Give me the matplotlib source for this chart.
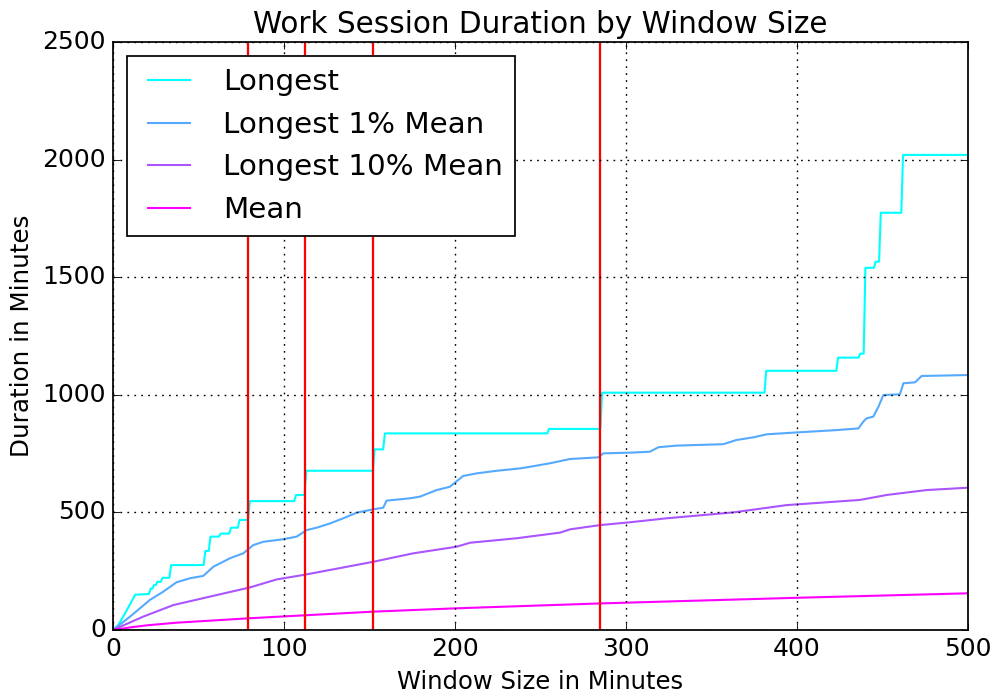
import matplotlib
matplotlib.use("Agg")
import matplotlib.pyplot as plt

plt.style.use("classic")

title = "Work Session Duration by Window Size"
xlabel = "Window Size in Minutes"
ylabel = "Duration in Minutes"
labels = ["Longest", "Longest 1% Mean", "Longest 10% Mean", "Mean"]

longest_x = [0, 3, 7, 10, 13, 21, 22, 23, 24, 25, 26, 28, 29, 33, 34, 53, 54, 56, 57, 62, 63, 68, 69, 73, 74, 79, 80,
             106, 107, 112, 113, 152, 153, 158, 159, 254, 255, 285, 286, 381, 382, 423, 424, 436, 437, 439, 440,
             445, 446, 448, 449, 461, 462, 500]
longest_y = [0, 20, 70, 110, 150, 153, 176, 176, 191, 191, 205, 205, 222, 222, 276, 276, 336, 336, 397, 397, 410, 410,
             435, 435, 468, 468, 548, 548, 574, 574, 677, 677, 768, 768, 836, 836, 855, 855, 1009, 1009, 1102, 1102,
             1158, 1158, 1175, 1175, 1540, 1540, 1566, 1566, 1774, 1774, 2020, 2020]

top1_x = [0, 10, 21.6, 29.4, 37.2, 45, 52.8, 58.7, 68.4, 76.2, 82, 87.9, 99.6, 107.4, 113.3, 119.1, 126.9, 134.7,
          142.5, 152.2, 158, 160, 173.7, 179.5, 189.3, 197, 204.8, 212.7, 224.4, 238, 243.9, 255.6, 267.3, 283.8,
          286.7, 302.3, 314, 318.9, 329.6, 356.9, 364.7, 374.4, 382.3, 399.8, 423.2, 435.9, 438.8, 440.7, 444.6,
          447.6, 450.5, 460.2, 462.2, 469, 472.9, 500]
top1_y = [0, 57, 128, 163, 203, 220, 230, 269, 305, 326, 361, 375, 386, 397, 425, 435, 453, 475, 499, 513, 520, 550,
          560, 567, 595, 609, 655, 666, 677, 687, 694, 709, 727, 734, 751, 754, 758, 777, 784, 790, 808, 819, 832, 840,
          850, 857, 886, 900, 907, 949, 999, 1002, 1049, 1053, 1080, 1084]

top10_x = [0, 17.7, 35.3, 56.7, 80.1, 95.7, 111.3, 134.7, 152.2, 175.6, 200.9, 208.8, 236, 261.4, 267.3, 284.8,
           302.3, 323.8, 362.8, 393.9, 436.8, 452.4, 475.8, 500]
top10_y = [0, 57, 106, 142, 181, 215, 234, 266, 290, 326, 354, 371, 390, 414, 428, 446, 458, 475, 500, 531, 553, 574,
           595, 605]

mean_x = [0, 10, 20, 37, 80, 152, 200, 285, 400, 500]
mean_y = [0, 11, 20, 31, 50, 78, 92, 113, 137, 156]

vlines_x = [79, 112, 152, 285]

colors = ["#00ffff", "#55aaff", "#aa55ff", "#ff00ff"]

fig = plt.figure(figsize=(997 / 125, 696 / 125), dpi=125, facecolor="white")
ax = fig.add_axes([113 / 997, 66 / 696, 855 / 997, 588 / 696])

series = [(longest_x, longest_y), (top1_x, top1_y), (top10_x, top10_y), (mean_x, mean_y)]
for (xs, ys), c, lab in zip(series, colors, labels):
    ax.plot(xs, ys, color=c, label=lab, lw=1.2)

for xv in vlines_x:
    ax.axvline(xv, color="red", lw=1.3)

ax.set_xlim(0, 500)
ax.set_ylim(0, 2500)
ax.grid(True, color="k", linestyle=":", linewidth=0.8)
ax.set_title(title, fontsize=17)
ax.set_xlabel(xlabel, fontsize=14)
ax.set_ylabel(ylabel, fontsize=14.2)
ax.tick_params(labelsize=14.4)
ax.legend(loc="upper left", fontsize=16.9, handlelength=2.05, handletextpad=0.8,
          labelspacing=0.5, borderpad=0.42, borderaxespad=0.47)

fig.savefig("out.png", dpi=125, facecolor="white")
